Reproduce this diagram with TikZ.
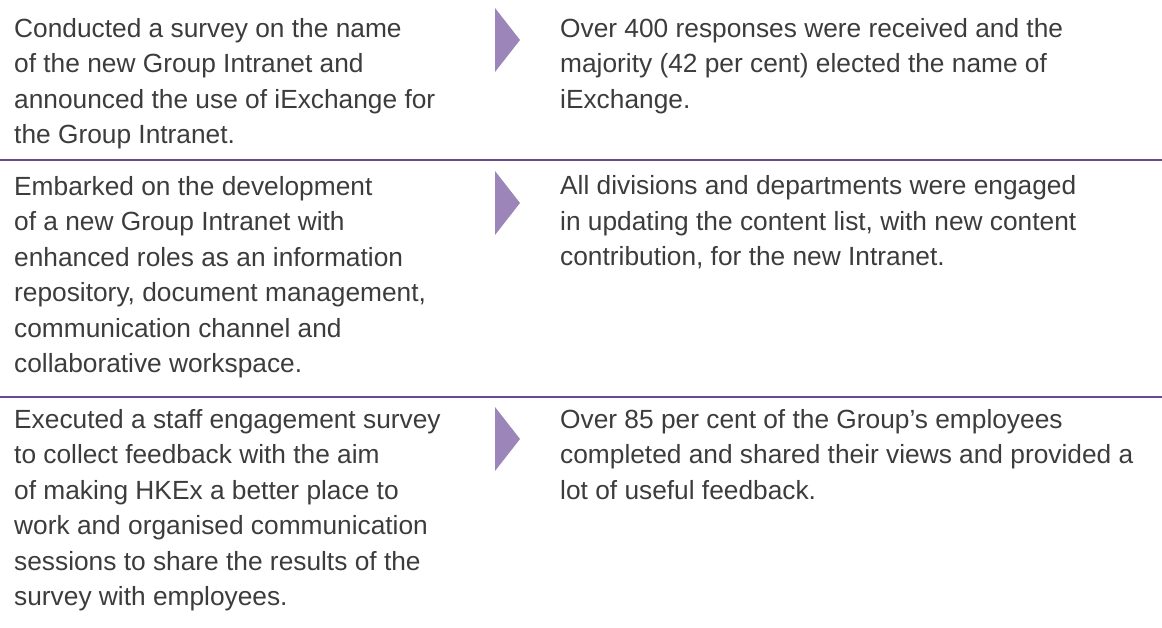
\documentclass[tikz,border=0pt]{standalone}
\usepackage{fontspec}
\setmainfont{Liberation Sans}
\definecolor{txtgray}{HTML}{3C3C3C}
\definecolor{rulepurple}{HTML}{674A90}
\definecolor{arrowpurple}{HTML}{9C86B9}
\begin{document}
\begin{tikzpicture}[x=1pt,y=-1pt,
  txt/.style={anchor=base west, inner sep=0pt, align=left, text=txtgray,
    font={\fontsize{26.3}{35.5}\selectfont}},
  rulebar/.style={draw=rulepurple, line width=2pt},
  pointer/.style={fill=arrowpurple}]
\useasboundingbox (0,0) rectangle (1162,628);
% row 1 (anchor = baseline of last line)
\node[txt] (l1) at (14,144) {Conducted a survey on the name\\of the new Group Intranet and\\announced the use of iExchange for\\the Group Intranet.};
\node[txt] (r1) at (560,108.5) {Over 400 responses were received and the\\majority (42 per cent) elected the name of\\iExchange.};
\fill[pointer] (495,8) -- (520,40) -- (495,72) -- cycle;
\coordinate (s1a) at (0,160);
\coordinate (s1b) at (1162,160);
\draw[rulebar] (s1a) -- (s1b);
% row 2
\node[txt] (l2) at (14,372.5) {Embarked on the development\\of a new Group Intranet with\\enhanced roles as an information\\repository, document management,\\communication channel and\\collaborative workspace.};
\node[txt] (r2) at (560,266) {All divisions and departments were engaged\\in updating the content list, with new content\\contribution, for the new Intranet.};
\fill[pointer] (495,171) -- (520,203) -- (495,235) -- cycle;
\coordinate (s2a) at (0,397);
\coordinate (s2b) at (1162,397);
\draw[rulebar] (s2a) -- (s2b);
% row 3
\node[txt] (l3) at (14,605.5) {Executed a staff engagement survey\\to collect feedback with the aim\\of making HKEx a better place to\\work and organised communication\\sessions to share the results of the\\survey with employees.};
\node[txt] (r3) at (560,499) {Over 85 per cent of the Group's employees\\completed and shared their views and provided a\\lot of useful feedback.};
\fill[pointer] (495,407) -- (520,439) -- (495,471) -- cycle;
\end{tikzpicture}
\end{document}
